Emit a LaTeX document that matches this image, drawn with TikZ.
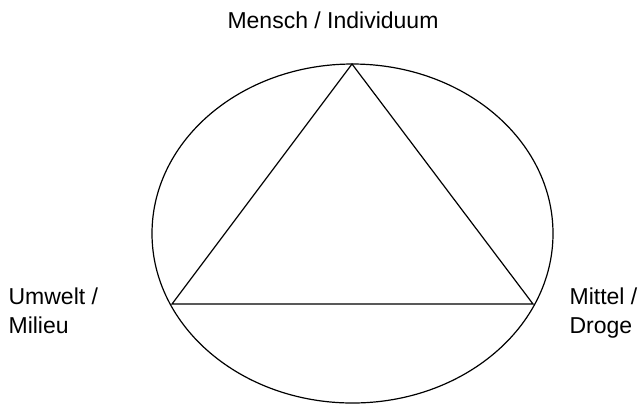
\documentclass[tikz,border=0pt]{standalone}
\usepackage{fontspec}
\setmainfont{Liberation Sans}
\usetikzlibrary{positioning}

\begin{document}
\begin{tikzpicture}[x=0.5pt, y=-0.5pt, line width=0.6pt,
    lbl/.style={inner sep=0pt, align=left, font=\fontsize{11.5}{14.5}\selectfont}]
    \useasboundingbox (0,0) rectangle (641,404);
    \coordinate (mensch) at (352,64);
    \coordinate (umwelt) at (172,304);
    \coordinate (mittel) at (533,304);
    \draw (352.5,233.5) ellipse [x radius=200.5, y radius=169.5];
    \draw (mensch) -- (umwelt) -- (mittel) -- cycle;
    \node[lbl, anchor=base] (tmensch) at (333,28) {Mensch / Individuum};
    \node[lbl, anchor=base west] (tumwelt) at (8,333) {Umwelt /\\Milieu};
    \node[lbl, anchor=base west] (tmittel) at (569,333) {Mittel /\\Droge};
  \end{tikzpicture}
\end{document}
